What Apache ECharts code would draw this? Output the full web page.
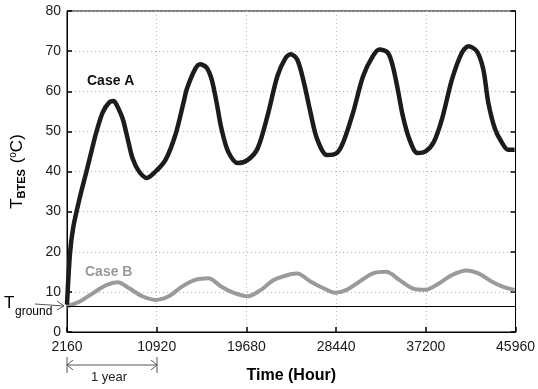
<!DOCTYPE html>
<html>
<head>
<meta charset="utf-8">
<script src="https://cdn.jsdelivr.net/npm/echarts@6/dist/echarts.min.js"></script>
<style>
  html, body { margin: 0; padding: 0; background: #fff; }
  #chart { width: 538px; height: 389px; }
</style>
</head>
<body>
<div id="chart"></div>
<script>
// time axis starts at 2160 h, ticks every year (8760 h)
const START_HOUR = 2160;
const YEAR_HOURS = 8760;
const END_HOUR = 45960;

const caseAHours = [2160, 2450, 2770, 3410, 4060, 4700, 5030, 5660, 6310, 6700, 6950, 7590, 8080, 8560, 9200, 9950,
  10810, 11780, 12740, 13550, 13870, 14670, 15150, 15790, 16280, 16760, 17240, 17890, 18850, 19820, 20780, 21750,
  22710, 23510, 23990, 24640, 25290, 25930, 26570, 27540, 28500, 29150, 30110, 31080, 32040, 32680, 33490, 33970,
  34450, 34940, 35570, 36380, 37180, 37990, 38790, 39760, 40720, 41360, 42170, 42810, 43290, 43940, 44580, 45230, 45870];
const caseATemps = [6.8, 19.5, 26.1, 33.5, 40.0, 46.6, 49.9, 54.8, 57.3, 57.6, 56.9, 53.2, 48.2, 43.3, 40.0, 38.4,
  40.0, 42.9, 49.1, 57.3, 60.6, 65.5, 66.7, 65.9, 63.0, 57.3, 50.7, 45.0, 42.1, 42.9, 45.8, 54.0,
  63.8, 68.3, 69.2, 67.9, 62.2, 54.8, 48.2, 44.1, 44.6, 47.4, 54.8, 63.8, 68.8, 70.4, 69.6, 66.3,
  60.6, 54.0, 48.2, 44.6, 45.0, 47.4, 53.2, 63.0, 69.6, 71.2, 70.0, 65.5, 57.3, 50.7, 47.4, 45.4, 45.4];

const caseBHours = [2160, 3410, 4700, 5990, 7110, 8240, 9520, 10810, 12100, 13380, 14670, 15960, 17240, 18530,
  19820, 21100, 22390, 23990, 24640, 25930, 27220, 28340, 29470, 30750, 32040, 33330, 34610, 35900, 37180,
  38470, 39760, 41200, 42330, 43620, 44900, 45870];
const caseBTemps = [6.4, 7.6, 9.7, 11.7, 12.4, 10.9, 8.9, 8.0, 8.9, 11.3, 13.0, 13.4, 11.3, 9.7,
  8.9, 10.5, 13.0, 14.4, 14.6, 12.6, 10.9, 9.8, 10.5, 12.6, 14.6, 15.0, 13.0, 10.9, 10.5,
  12.1, 14.2, 15.3, 14.6, 12.6, 11.1, 10.5];

const groundTemp = 6.5;
const yTicks = [0, 80, 10]; // min, max, step

const pair = (hours, temps) => hours.map((h, i) => [h - START_HOUR, temps[i]]);

const chart = echarts.init(document.getElementById('chart'));
const font = 'Liberation Sans, Arial, Helvetica, sans-serif';
const gridLine = { show: true, lineStyle: { color: '#b5b5b5', type: [1, 3], width: 1 } };

const option = {
  animation: false,
  textStyle: { fontFamily: font },
  grid: { left: 67, right: 17, top: 11, bottom: 53, show: true, borderColor: '#000', borderWidth: 1 },
  xAxis: {
    type: 'value',
    min: 0,
    max: END_HOUR - START_HOUR,
    interval: YEAR_HOURS,
    axisLine: { show: true, onZero: false, lineStyle: { color: '#000', width: 1 } },
    axisTick: { show: true, inside: true, length: 5, lineStyle: { color: '#000', width: 1.5 } },
    axisLabel: { color: '#1a1a1a', fontSize: 14, margin: 8, formatter: v => String(v + START_HOUR) },
    splitLine: gridLine,
    name: 'Time (Hour)',
    nameLocation: 'middle',
    nameGap: 36,
    nameTextStyle: { fontSize: 16, fontWeight: 'bold', color: '#000' }
  },
  yAxis: [{
    type: 'value',
    min: yTicks[0],
    max: yTicks[1],
    interval: yTicks[2],
    axisLine: { show: true, lineStyle: { color: '#000', width: 1 } },
    axisTick: { show: true, inside: true, length: 5, lineStyle: { color: '#000', width: 1.5 } },
    axisLabel: { color: '#1a1a1a', fontSize: 14, margin: 6 },
    splitLine: gridLine,
    name: '{t|T}{s|BTES}{t| (}{u|o}{t|C)}',
    nameLocation: 'middle',
    nameRotate: 90,
    nameGap: 40,
    nameTextStyle: {
      rich: {
        t: { fontSize: 17, color: '#000', fontFamily: font },
        s: { fontSize: 11, color: '#000', fontWeight: 'bold', verticalAlign: 'bottom', padding: [8, 1, 0, 0], fontFamily: font },
        u: { fontSize: 10, color: '#000', verticalAlign: 'top', padding: [0, 0, 7, 0], fontFamily: font }
      }
    }
  }, {
    type: 'value',
    position: 'right',
    min: yTicks[0],
    max: yTicks[1],
    interval: yTicks[2],
    axisLine: { show: true, lineStyle: { color: '#000', width: 1 } },
    axisTick: { show: true, inside: true, length: 5, lineStyle: { color: '#000', width: 1.5 } },
    axisLabel: { show: false },
    splitLine: { show: false }
  }],
  series: [{
    name: 'Case B',
    type: 'line',
    data: pair(caseBHours, caseBTemps),
    showSymbol: false,
    smooth: 0.3,
    lineStyle: { color: '#9a9a9a', width: 4 },
    z: 2,
    markLine: {
      silent: true,
      symbol: 'none',
      label: { show: false },
      lineStyle: { color: '#000', type: 'solid', width: 1 },
      data: [{ yAxis: groundTemp }]
    }
  }, {
    name: 'Case A',
    type: 'line',
    data: pair(caseAHours, caseATemps),
    showSymbol: false,
    smooth: 0.3,
    lineStyle: { color: '#1c1c1c', width: 4.5 },
    z: 3
  }],
  graphic: [
    { type: 'text', left: 87, top: 74, style: { text: 'Case A', font: 'bold 14px ' + font, fill: '#111' } },
    { type: 'text', left: 85, top: 265, style: { text: 'Case B', font: 'bold 14px ' + font, fill: '#999' } },
    // T ground label and arrow
    { type: 'text', left: 4, top: 295, style: { text: 'T', font: '17px ' + font, fill: '#000' } },
    { type: 'text', left: 15, top: 306, style: { text: 'ground', font: '12px ' + font, fill: '#000' } },
    { type: 'line', shape: { x1: 35, y1: 304, x2: 64, y2: 306 }, style: { stroke: '#555', lineWidth: 1 } },
    { type: 'polyline', shape: { points: [[57, 301], [64, 306], [57, 310]] }, style: { stroke: '#555', lineWidth: 1, fill: null } },
    // one year span
    { type: 'line', shape: { x1: 67, y1: 357, x2: 67, y2: 373 }, style: { stroke: '#555', lineWidth: 1 } },
    { type: 'line', shape: { x1: 157, y1: 357, x2: 157, y2: 373 }, style: { stroke: '#555', lineWidth: 1 } },
    { type: 'line', shape: { x1: 67, y1: 365, x2: 157, y2: 365 }, style: { stroke: '#555', lineWidth: 1 } },
    { type: 'polyline', shape: { points: [[73, 360], [67, 365], [73, 370]] }, style: { stroke: '#555', lineWidth: 1, fill: null } },
    { type: 'polyline', shape: { points: [[151, 360], [157, 365], [151, 370]] }, style: { stroke: '#555', lineWidth: 1, fill: null } },
    { type: 'text', left: 91, top: 371, style: { text: '1 year', font: '13px ' + font, fill: '#222' } }
  ]
};

chart.setOption(option);
window.addEventListener('resize', () => chart.resize());
</script>
</body>
</html>
